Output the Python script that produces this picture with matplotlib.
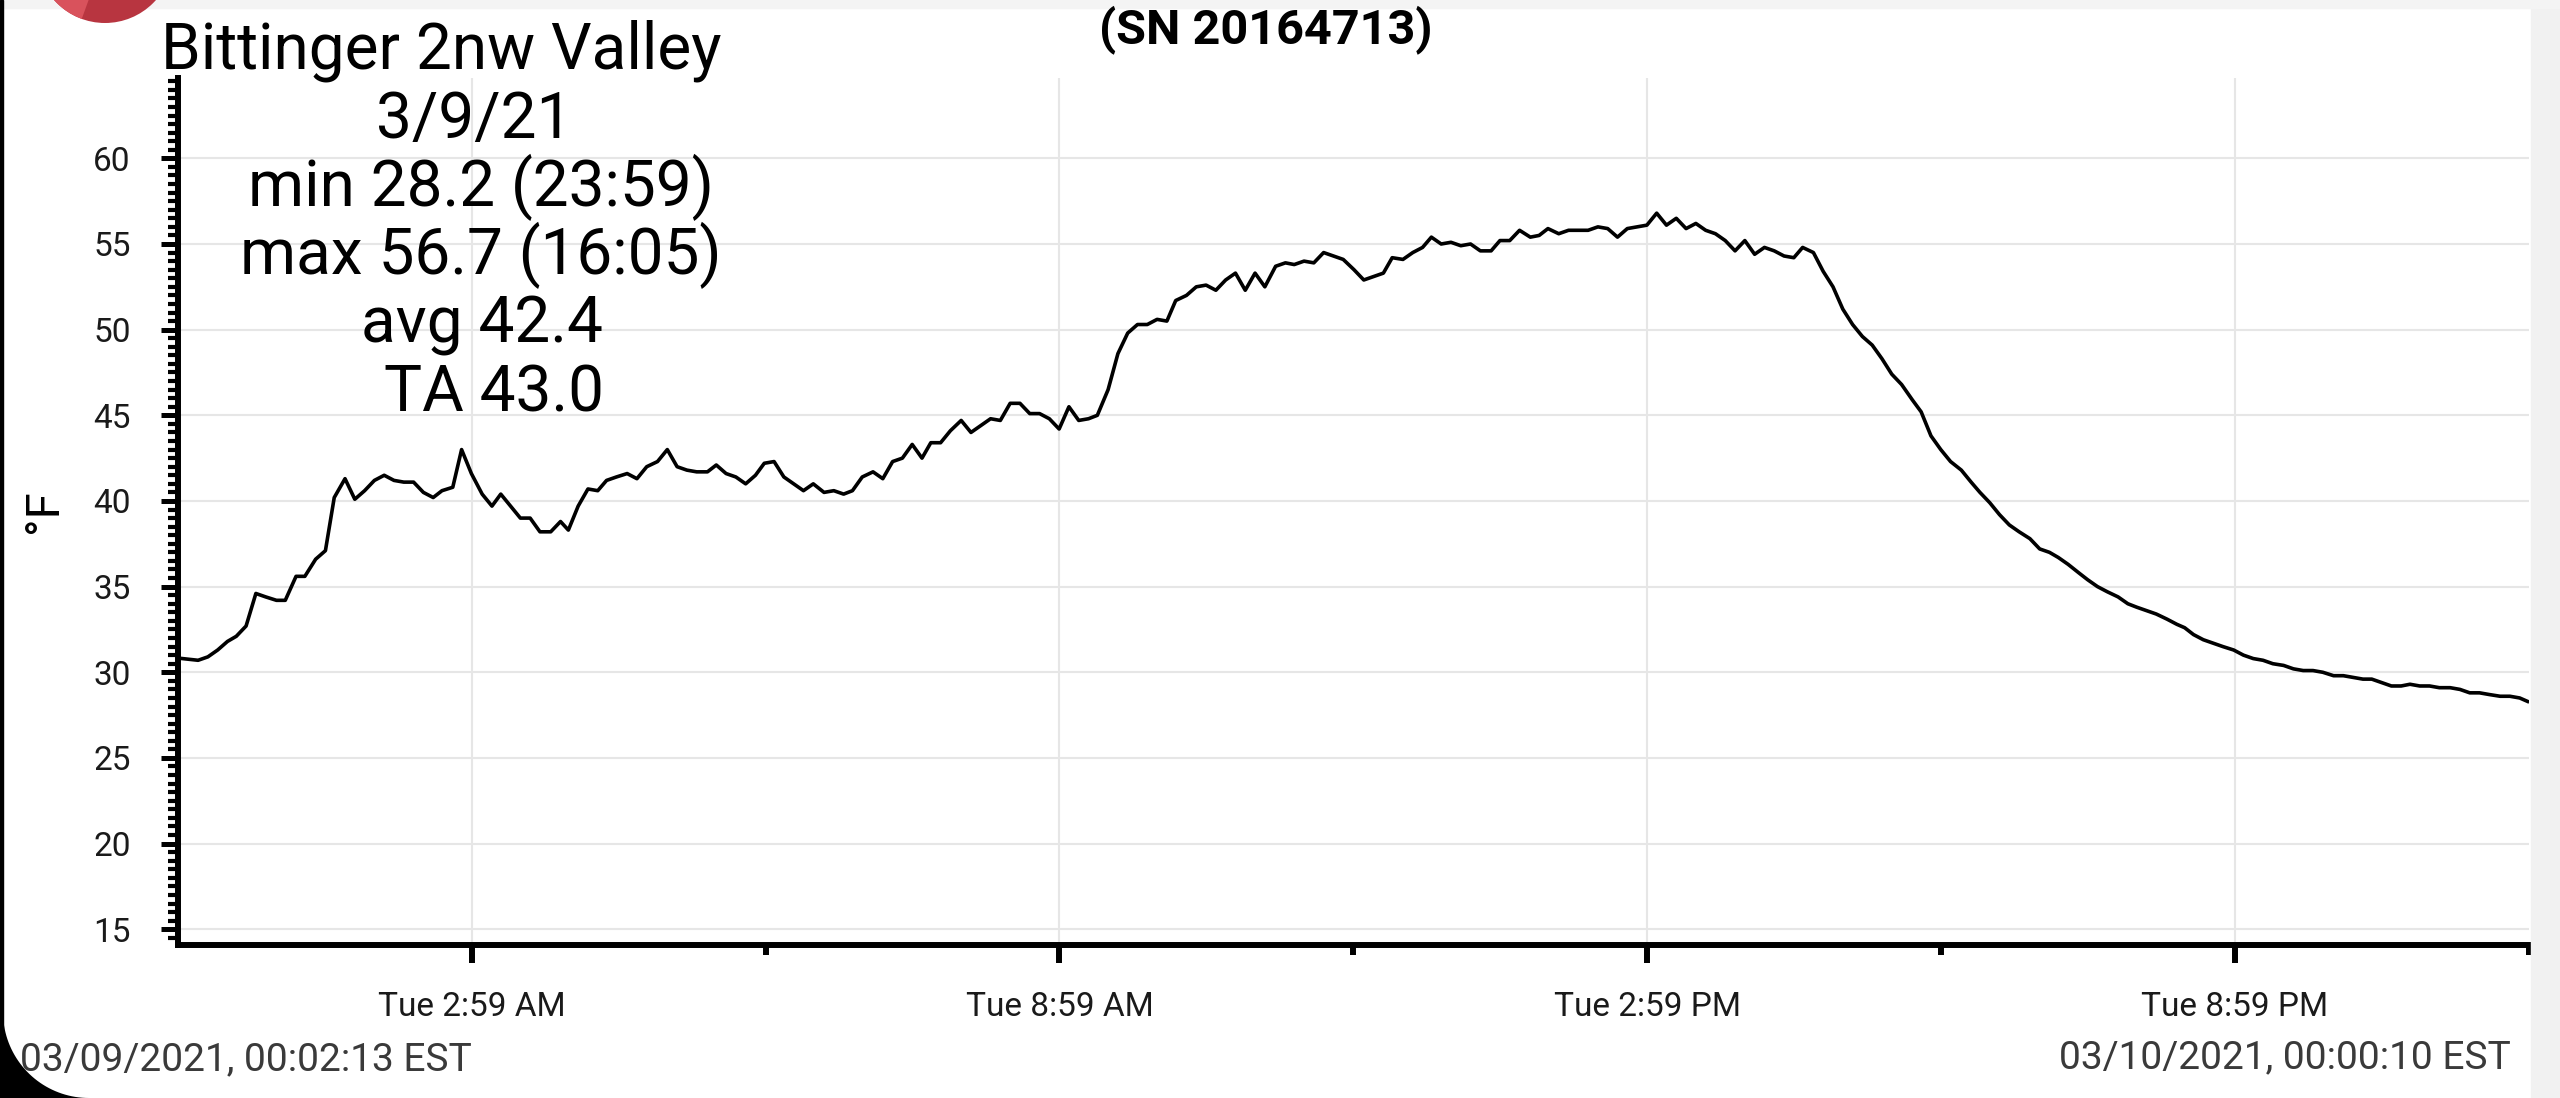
import matplotlib
matplotlib.use('Agg')
import matplotlib.pyplot as plt
from matplotlib.patches import Rectangle, Circle, Polygon, Wedge
from matplotlib.ticker import MultipleLocator, FixedLocator
import numpy as np

# ---------------- data (hours after midnight, degF) ----------------
hours = [0.03, 0.19, 0.29, 0.39, 0.49, 0.58, 0.68, 0.78, 0.88, 0.99, 1.08, 1.19, 1.28, 1.39, 1.49,
         1.58, 1.69, 1.79, 1.89, 1.99, 2.09, 2.19, 2.29, 2.39, 2.49, 2.59, 2.68, 2.79, 2.88, 2.98,
         3.09, 3.19, 3.28, 3.38, 3.48, 3.58, 3.68, 3.79, 3.89, 3.97,
         4.07, 4.17, 4.27, 4.36, 4.46, 4.57, 4.67, 4.77, 4.88, 4.98, 5.08, 5.18, 5.28, 5.39, 5.48,
         5.58, 5.68, 5.78, 5.88, 5.97, 6.07, 6.17, 6.27, 6.37, 6.47, 6.58, 6.68, 6.78, 6.87, 6.97,
         7.08, 7.18, 7.28, 7.38, 7.48, 7.58, 7.67, 7.77, 7.87, 7.98,
         8.08, 8.18, 8.28, 8.38, 8.48, 8.58, 8.68, 8.78, 8.88, 8.98, 9.08, 9.18, 9.28, 9.37, 9.48,
         9.58, 9.68, 9.78, 9.88, 9.98, 10.08, 10.17, 10.28, 10.38, 10.48, 10.58, 10.68, 10.78,
         10.88, 10.98, 11.08, 11.19, 11.29, 11.38, 11.48, 11.58, 11.68, 11.78, 11.88,
         11.99, 12.09, 12.19, 12.29, 12.38, 12.49, 12.59, 12.69, 12.78, 12.88, 12.98, 13.08, 13.18,
         13.28, 13.39, 13.48, 13.58, 13.68, 13.79, 13.88, 13.97, 14.08, 14.18, 14.28, 14.38, 14.48,
         14.58, 14.68, 14.78, 14.88, 14.98, 15.08, 15.18, 15.28, 15.38, 15.48, 15.58, 15.68, 15.78,
         15.88,
         15.98, 16.08, 16.18, 16.28, 16.38, 16.48, 16.57, 16.68, 16.78, 16.88, 16.98, 17.08, 17.18,
         17.28, 17.38, 17.48, 17.58, 17.69, 17.78, 17.88, 17.98, 18.08, 18.19, 18.29, 18.38, 18.48,
         18.58, 18.68, 18.78, 18.89, 18.99, 19.09, 19.18, 19.28, 19.39, 19.48, 19.58, 19.68, 19.79,
         19.89,
         19.98, 20.08, 20.18, 20.29, 20.39, 20.47, 20.56, 20.66, 20.76, 20.86, 20.97, 21.07, 21.17,
         21.27, 21.37, 21.48, 21.58, 21.68, 21.78, 21.88, 21.99, 22.09, 22.19, 22.29, 22.38, 22.48,
         22.58, 22.68, 22.77, 22.87, 22.97, 23.07, 23.18, 23.28, 23.38, 23.48, 23.58, 23.69, 23.79,
         23.89, 23.97]

temps = [30.8, 30.7, 30.9, 31.3, 31.8, 32.1, 32.7, 34.6, 34.4, 34.2, 34.2, 35.6, 35.6, 36.6, 37.1,
         40.2, 41.3, 40.1, 40.6, 41.2, 41.5, 41.2, 41.1, 41.1, 40.5, 40.2, 40.6, 40.8, 43.0, 41.6,
         40.4, 39.7, 40.4, 39.7, 39.0, 39.0, 38.2, 38.2, 38.8, 38.3,
         39.7, 40.7, 40.6, 41.2, 41.4, 41.6, 41.3, 42.0, 42.3, 43.0, 42.0, 41.8, 41.7, 41.7, 42.1,
         41.6, 41.4, 41.0, 41.5, 42.2, 42.3, 41.4, 41.0, 40.6, 41.0, 40.5, 40.6, 40.4, 40.6, 41.4,
         41.7, 41.3, 42.3, 42.5, 43.3, 42.5, 43.4, 43.4, 44.1, 44.7,
         44.0, 44.4, 44.8, 44.7, 45.7, 45.7, 45.1, 45.1, 44.8, 44.2, 45.5, 44.7, 44.8, 45.0, 46.5,
         48.6, 49.8, 50.3, 50.3, 50.6, 50.5, 51.7, 52.0, 52.5, 52.6, 52.3, 52.9, 53.3,
         52.3, 53.3, 52.5, 53.7, 53.9, 53.8, 54.0, 53.9, 54.5, 54.3, 54.1,
         53.5, 52.9, 53.1, 53.3, 54.2, 54.1, 54.5, 54.8, 55.4, 55.0, 55.1, 54.9, 55.0,
         54.6, 54.6, 55.2, 55.2, 55.8, 55.4, 55.5, 55.9, 55.6, 55.8, 55.8, 55.8, 56.0,
         55.9, 55.4, 55.9, 56.0, 56.1, 56.8, 56.1, 56.5, 55.9, 56.2, 55.8, 55.6, 55.2,
         54.6,
         55.2, 54.4, 54.8, 54.6, 54.3, 54.2, 54.8, 54.5, 53.4, 52.5, 51.2, 50.3, 49.6,
         49.1, 48.3, 47.4, 46.8, 45.9, 45.2, 43.8, 43.0, 42.3, 41.8, 41.1, 40.5, 39.9,
         39.2, 38.6, 38.2, 37.8, 37.2, 37.0, 36.7, 36.3, 35.8, 35.4, 35.0, 34.7, 34.4,
         34.0,
         33.8, 33.6, 33.4, 33.1, 32.8, 32.6, 32.2, 31.9, 31.7, 31.5, 31.3, 31.0, 30.8,
         30.7, 30.5, 30.4, 30.2, 30.1, 30.1, 30.0, 29.8, 29.8, 29.7, 29.6, 29.6, 29.4,
         29.2, 29.2, 29.3, 29.2, 29.2, 29.1, 29.1, 29.0, 28.8, 28.8, 28.7, 28.6, 28.6,
         28.5, 28.3]

major_x = [2.983, 8.983, 14.983, 20.983]
minor_x = [5.983, 11.983, 17.983, 23.983]
x_labels = ["Tue 2:59 AM", "Tue 8:59 AM", "Tue 2:59 PM", "Tue 8:59 PM"]
y_major = [15, 20, 25, 30, 35, 40, 45, 50, 55, 60]

station = "Bittinger 2nw Valley"
stats_lines = ["3/9/21", "min 28.2 (23:59)", "max 56.7 (16:05)", "avg 42.4", "TA 43.0"]
serial = "(SN 20164713)"
start_label = "03/09/2021, 00:02:13 EST"
end_label = "03/10/2021, 00:00:10 EST"

# ---------------- figure ----------------
W, H = 2560, 1098
plt.rcParams['font.family'] = ['Roboto', 'DejaVu Sans']
fig = plt.figure(figsize=(W / 100, H / 100), dpi=100)
fig.patch.set_facecolor('white')

def fx(x):
    return x / W

def fy(y):
    return 1 - y / H

# screen decorations
fig.patches.append(Rectangle((fx(2531), 0), 1 - fx(2531), 1, transform=fig.transFigure,
                             color='#f1f1f1', zorder=0))
fig.patches.append(Rectangle((0, fy(8)), 1, fy(0) - fy(8), transform=fig.transFigure,
                             color='#f4f4f4', zorder=0))
fig.patches.append(Rectangle((0, 0), fx(3), 1, transform=fig.transFigure,
                             color='black', zorder=5))
# rounded bottom-left screen corner
r = 86
cx, cy = 89, H - 1012
th = np.linspace(np.pi, 1.5 * np.pi, 40)
arc = [(cx + r * np.cos(t), cy + r * np.sin(t)) for t in th]
poly = [(0, 0), (0, cy)] + arc + [(cx, 0)]
poly = [(px / W, py / H) for px, py in poly]
fig.patches.append(Polygon(poly, closed=True, transform=fig.transFigure,
                           facecolor='black', edgecolor='none', zorder=5))
# app logo (partially visible)
fig.patches.append(Circle((105, H + 45), 68, transform=None, facecolor='#b83540',
                          edgecolor='none', zorder=3))
fig.patches.append(Wedge((105, H + 45), 68, 180, 250, transform=None, facecolor='#d9525c',
                         edgecolor='none', zorder=3))

ax = fig.add_axes([fx(178), fy(945), fx(2529) - fx(178), fy(78) - fy(945)])
ax.set_facecolor('white')
ax.plot(hours, temps, color='black', lw=2.6, zorder=3)
ax.set_xlim(-0.015, 23.985)
ax.set_ylim(14.08, 64.69)

for s in ['top', 'right']:
    ax.spines[s].set_visible(False)
for s in ['left', 'bottom']:
    ax.spines[s].set_linewidth(4.3)
    ax.spines[s].set_color('black')

ax.yaxis.set_major_locator(FixedLocator(y_major))
ax.yaxis.set_minor_locator(MultipleLocator(0.5))
ax.set_yticklabels([str(v) for v in y_major])
ax.xaxis.set_major_locator(FixedLocator(major_x))
ax.xaxis.set_minor_locator(FixedLocator(minor_x))
ax.set_xticklabels(x_labels)

ax.tick_params(axis='y', which='major', length=12, width=3.6, pad=22,
               labelsize=24, labelcolor='#1a1a1a')
ax.tick_params(axis='y', which='minor', length=7, width=3)
ax.tick_params(axis='x', which='major', length=13, width=4.3, pad=20,
               labelsize=24, labelcolor='#1a1a1a')
ax.tick_params(axis='x', which='minor', length=7, width=4.3)

ax.grid(which='major', color='#e6e6e6', lw=1.5)
ax.set_axisbelow(True)

# texts
fig.text(fx(441), fy(68), station, ha='center', va='baseline', fontsize=46, color='black')
for line, base, xc in zip(stats_lines, [138, 206, 274, 342, 411], [474, 481, 481, 482, 494]):
    fig.text(fx(xc), fy(base), line, ha='center', va='baseline', fontsize=46, color='black')
fig.text(fx(1266), fy(43), serial, ha='center', va='baseline', fontsize=35,
         fontweight='bold', color='black')
fig.text(fx(44), fy(511), "°F", ha='center', va='center', rotation=90, fontsize=34,
         color='black')
fig.text(fx(20), fy(1070), start_label, ha='left', va='baseline', fontsize=28, color='#3a3a3a')
fig.text(fx(2511), fy(1068), end_label, ha='right', va='baseline', fontsize=28, color='#3a3a3a')

fig.savefig('out.png', dpi=100, facecolor=fig.get_facecolor())
